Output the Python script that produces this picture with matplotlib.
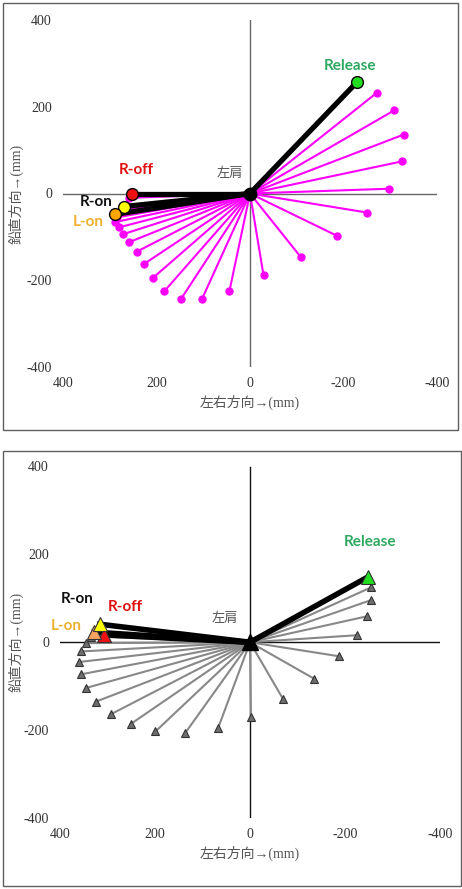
import matplotlib.pyplot as plt
from matplotlib.patches import Rectangle

# upper panel: left arm trajectory (circles)
mag_x = [-271, -309, -329, -325, -298, -251, -187, -109, -29, 44, 103, 148,
         183, 207, 226, 242, 258, 272, 280, 289, 284, 272, 258]
mag_y = [232, 192, 136, 74, 11, -44, -98, -147, -189, -225, -244, -244,
         -225, -194, -162, -134, -112, -94, -78, -66, -55, -38, -10]
top_names = ['R-off', 'R-on', 'L-on', 'Release']
top_x = [252, 269, 288, -229]
top_y = [0, -30, -48, 257]

# lower panel: right arm trajectory (triangles)
gry_x = [-255, -255, -246, -225, -188, -135, -70, -2, 67, 136, 199, 251,
         293, 324, 345, 356, 360, 356, 345, 335]
gry_y = [125, 96, 59, 16, -32, -83, -130, -169, -195, -206, -203, -186,
         -164, -135, -104, -73, -45, -21, -2, 13]
bot_names = ['R-off', 'L-on', 'R-on', 'Release']
bot_x = [307, 328, 316, -249]
bot_y = [17, 23, 41, 149]

ticks = [400, 200, 0, -200, -400]
tick_labels = ['400', '200', '0', '-200', '-400']

point_colors = {'R-off': '#ee1111', 'R-on': '#ffff00', 'L-on': '#ffa500',
                'Release': '#22dd22'}
bot_colors = {'R-off': '#ee1111', 'R-on': '#ffff00', 'L-on': '#f4a460',
              'Release': '#22dd22'}
text_colors = {'R-off': '#e01010', 'R-on': '#111111', 'L-on': '#f0b030',
               'Release': '#2ea860'}

serif = ['Liberation Serif', 'Noto Sans CJK JP']
cjk = ['Noto Sans CJK JP', 'DejaVu Sans']

fig = plt.figure(figsize=(4.62, 8.89), dpi=100)

# panel frames
fig.patches.append(Rectangle((3 / 462, 1 - 430 / 889), 455 / 462, 427 / 889,
                             transform=fig.transFigure, fill=False,
                             edgecolor='#606060', lw=1.0))
fig.patches.append(Rectangle((3 / 462, 1 - 886 / 889), 458 / 462, 435 / 889,
                             transform=fig.transFigure, fill=False,
                             edgecolor='#606060', lw=1.0))


def setup(ax, axcolor, ylab_x):
    ax.set_xlim(400, -400)
    ax.set_ylim(-400, 400)
    for s in ax.spines.values():
        s.set_visible(False)
    ax.axhline(0, color=axcolor, lw=1.0, zorder=1)
    ax.axvline(0, color=axcolor, lw=1.0, zorder=1)
    ax.set_xticks(ticks)
    ax.set_xticklabels(tick_labels, family=serif, fontsize=10, color='#333333')
    ax.set_yticks(ticks)
    ax.set_yticklabels(tick_labels, family=serif, fontsize=10, color='#333333')
    ax.tick_params(length=0, pad=8)
    ax.tick_params(axis='x', pad=7)
    ax.set_xlabel('左右方向→(mm)', family=serif, fontsize=10, color='#555555',
                  labelpad=4)
    ax.set_ylabel('鉛直方向→(mm)', family=serif, fontsize=10, color='#555555')
    ax.yaxis.set_label_coords(ylab_x, 0.5)
    ax.patch.set_alpha(0)


# ---- top panel ----
ax1 = fig.add_axes([63 / 462, 1 - 367 / 889, 374 / 462, 347 / 889])
setup(ax1, '#666666', -0.104)
for x, y in zip(mag_x, mag_y):
    ax1.plot([0, x], [0, y], color='#ff00ff', lw=1.5, zorder=2)
ax1.plot(mag_x, mag_y, 'o', color='#ff00ff', ms=5, zorder=3)
for n, x, y in zip(top_names, top_x, top_y):
    ax1.plot([0, x], [0, y], color='black', lw=3.8, zorder=4,
             solid_capstyle='round')
for n, x, y in zip(top_names, top_x, top_y):
    ax1.plot(x, y, 'o', ms=8.5, mfc=point_colors[n], mec='black', mew=1,
             zorder=5)
ax1.plot(0, 0, 'o', color='black', ms=9, zorder=6)
ax1.text(-214, 295, 'Release', color=text_colors['Release'], family='Lato',
         weight='bold', fontsize=11, ha='center', va='center')
ax1.text(244, 54, 'R-off', color=text_colors['R-off'], family='Lato',
         weight='bold', fontsize=11, ha='center', va='center')
ax1.text(329, -19, 'R-on', color=text_colors['R-on'], family='Lato',
         weight='bold', fontsize=11, ha='center', va='center')
ax1.text(346, -65, 'L-on', color=text_colors['L-on'], family='Lato',
         weight='bold', fontsize=11, ha='center', va='center')
ax1.text(44, 46, '左肩', color='#555555', family=cjk, fontsize=9.5,
         ha='center', va='center')

# ---- bottom panel ----
ax2 = fig.add_axes([60 / 462, 1 - 818 / 889, 380 / 462, 351.5 / 889])
setup(ax2, '#111111', -0.095)
for x, y in zip(gry_x, gry_y):
    ax2.plot([0, x], [0, y], color='#888888', lw=1.5, zorder=2)
ax2.plot(gry_x, gry_y, '^', mfc='#6e6e6e', mec='#333333', mew=0.8, ms=6,
         zorder=3)
for n, x, y in zip(bot_names, bot_x, bot_y):
    ax2.plot([0, x], [0, y], color='black', lw=4, zorder=4)
for n, x, y in zip(bot_names, bot_x, bot_y):
    ax2.plot(x, y, '^', ms=9.5, mfc=bot_colors[n], mec='#333333', mew=0.8,
             zorder=5)
ax2.plot(0, 0, '^', color='black', ms=11, zorder=6)
ax2.text(-253, 229, 'Release', color=text_colors['Release'], family='Lato',
         weight='bold', fontsize=11, ha='center', va='center')
ax2.text(263, 81, 'R-off', color=text_colors['R-off'], family='Lato',
         weight='bold', fontsize=11, ha='center', va='center')
ax2.text(363, 98, 'R-on', color=text_colors['R-on'], family='Lato',
         weight='bold', fontsize=11, ha='center', va='center')
ax2.text(387, 38, 'L-on', color=text_colors['L-on'], family='Lato',
         weight='bold', fontsize=11, ha='center', va='center')
ax2.text(53, 53, '左肩', color='#555555', family=cjk, fontsize=9.5,
         ha='center', va='center')

fig.savefig('out.png', dpi=100)
